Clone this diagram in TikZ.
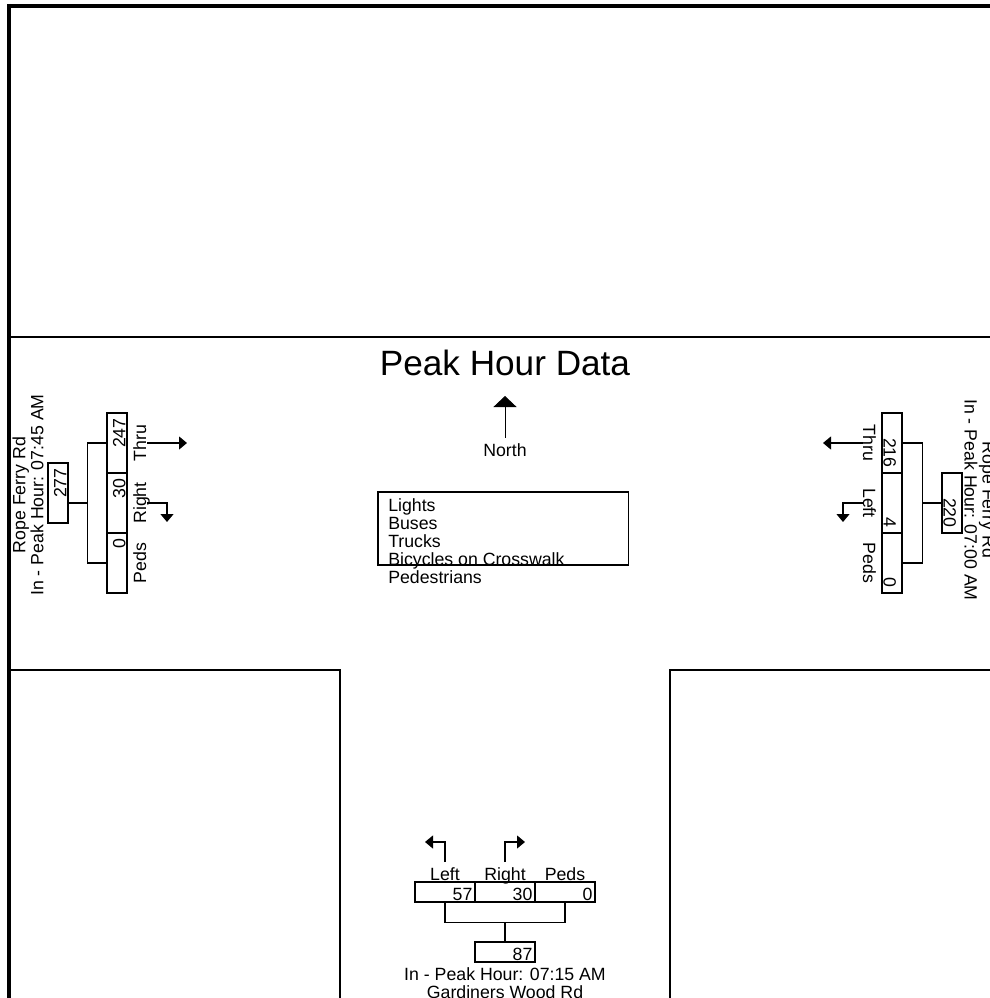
\documentclass[tikz,border=0pt]{standalone}
\usepackage{fontspec}
\setmainfont{Liberation Sans}
\usetikzlibrary{arrows.meta}
\def\pxu{0.7113pt}

\begin{document}
\begin{tikzpicture}[x=0.025cm,y=-0.025cm,every node/.style={font=\fontsize{12.6}{12.8}\selectfont,inner sep=0pt},line/.style={draw=black,line width=0.75pt},frame/.style={draw=black,line width=2.9pt},cellv/.style={draw,line width=0.75pt,minimum width=20*\pxu,minimum height=60*\pxu},cellh/.style={draw,line width=0.75pt,minimum width=60*\pxu,minimum height=20*\pxu},tip/.style={-{Triangle[width=13*\pxu,length=8*\pxu]}}]
\useasboundingbox (0,0) rectangle (990,998);
\clip (0,0) rectangle (990,998);
% frame and road edges
\draw[frame] (7,6) -- (990,6);
\draw[frame] (9,4) -- (9,998);
\draw[line] (11,337) -- (990,337);
\draw[line] (11,670) -- (340,670) -- (340,998);
\draw[line] (990,670) -- (670,670) -- (670,998);

\node[font=\fontsize{25}{30}\selectfont] (title) at (505,363) {Peak Hour Data};
\node (north) at (505,450) {North};
\coordinate (nhead) at (505,396);
\draw[line,line width=0.6pt,-{Triangle[width=23*\pxu,length=11*\pxu]}] ([yshift=4pt]north.north) -- (nhead);
\node[draw,line width=0.75pt,minimum width=250*\pxu,minimum height=73*\pxu] (legend) at (503,528.5) {};
\node[anchor=north west,align=left] (legendtxt) at (388,498) {Lights\\Buses\\Trucks\\Bicycles on Crosswalk\\Pedestrians};

% west leg
\foreach \n/\y/\v/\l in {wthru/443/247/Thru,wright/503/30/Right,wpeds/563/0/Peds}{
  \node[cellv] (\n) at (117,\y) {};
  \node[rotate=90,anchor=base east] (\n-v) at ([yshift=-4pt,xshift=-1.5pt]\n.north east) {\v};
  \node[rotate=90,anchor=base] (\n-l) at (146,\y) {\l};
}
\node[cellv] (wtot) at (58,493) {};
\node[rotate=90,anchor=base east] (wtot-v) at ([yshift=-4pt,xshift=-1.5pt]wtot.north east) {277};
\draw[line] (wthru.west) -- ++(-19,0) |- (wpeds.west);
\coordinate (wbr) at (88,503);
\draw[line] (wtot.east |- wbr) -- (wbr);
\node[rotate=90,align=center] (wname) at (28,495) {Rope Ferry Rd\\In - Peak Hour: 07:45 AM};
\coordinate (wthru-a) at (147,443);
\coordinate (wthru-b) at (187,443);
\draw[line,tip] (wthru-a) -- (wthru-b);
\coordinate (wright-a) at (147,503);
\coordinate (wright-b) at (167,522);
\draw[line,tip] (wright-a) -| (wright-b);

% east leg
\foreach \n/\y/\v/\l in {ethru/443/216/Thru,eleft/503/4/Left,epeds/563/0/Peds}{
  \node[cellv] (\n) at (892,\y) {};
  \node[rotate=-90,anchor=base east] (\n-v) at ([yshift=4pt,xshift=1.5pt]\n.south west) {\v};
  \node[rotate=-90,anchor=base] (\n-l) at (863,\y) {\l};
}
\node[cellv] (etot) at (952,503) {};
\node[rotate=-90,anchor=base east] (etot-v) at ([yshift=4pt,xshift=1.5pt]etot.south west) {220};
\draw[line] (ethru.east) -- ++(20,0) |- (epeds.east);
\draw[line] (eleft.east -| 922,0) -- (etot.west);
\node[rotate=-90,align=center] (ename) at (980,500) {Rope Ferry Rd\\In - Peak Hour: 07:00 AM};
\coordinate (ethru-a) at (863,443);
\coordinate (ethru-b) at (823,443);
\draw[line,tip] (ethru-a) -- (ethru-b);
\coordinate (eleft-a) at (863,503);
\coordinate (eleft-b) at (843,522);
\draw[line,tip] (eleft-a) -| (eleft-b);

% south leg
\foreach \n/\x/\v/\l in {sleft/445/57/Left,sright/505/30/Right,speds/565/0/Peds}{
  \node[cellh] (\n) at (\x,892) {};
  \node[anchor=base east] (\n-v) at ([xshift=-2pt,yshift=1.5pt]\n.south east) {\v};
  \node[anchor=base] (\n-l) at (\x,880) {\l};
}
\node[cellh] (stot) at (505,952) {};
\node[anchor=base east] (stot-v) at ([xshift=-2pt,yshift=1.5pt]stot.south east) {87};
\draw[line] (sleft.south) -- ++(0,20) -| (speds.south);
\draw[line] (sright.south |- 0,922) -- (stot.north);
\node[anchor=base,align=center] (sname) at (505,998) {In - Peak Hour: 07:15 AM\\Gardiners Wood Rd};
\coordinate (sleft-a) at (445,862);
\coordinate (sleft-b) at (425,842);
\draw[line,tip] (sleft-a) |- (sleft-b);
\coordinate (sright-a) at (505,862);
\coordinate (sright-b) at (525,842);
\draw[line,tip] (sright-a) |- (sright-b);
\end{tikzpicture}
\end{document}
